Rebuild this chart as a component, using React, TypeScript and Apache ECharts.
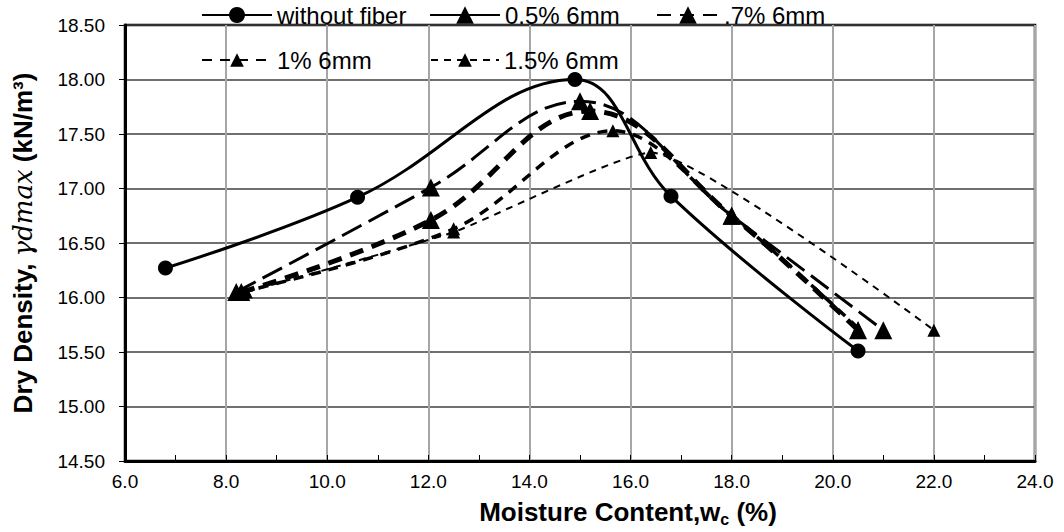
import React, { useEffect, useRef } from "react";
import * as echarts from "echarts";

const seriesNames = ["without fiber", "0.5% 6mm", ".7% 6mm", "1% 6mm", "1.5% 6mm"];

const wfX = [6.8, 10.6, 14.9, 16.8, 20.5];
const wfY = [16.27, 16.92, 18.0, 16.93, 15.51];

const p05X = [8.2, 12.05, 15.0, 18.0, 21.0];
const p05Y = [16.05, 17.01, 17.8, 16.75, 15.7];

const p07X = [8.3, 12.05, 15.2, 18.0, 20.5];
const p07Y = [16.05, 16.71, 17.71, 16.75, 15.7];

const p1X = [8.3, 12.5, 15.65, 18.0, 20.5];
const p1Y = [16.05, 16.63, 17.53, 16.75, 15.72];

const p15X = [8.4, 12.5, 16.4, 22.0];
const p15Y = [16.05, 16.6, 17.33, 15.7];

const xTicks = { min: 6, max: 24, interval: 2 };
const yTicks = { min: 14.5, max: 18.5, interval: 0.5 };

const zip = (xs: number[], ys: number[]) => xs.map((x, i) => [x, ys[i]]);

const FONT = "Liberation Sans, Arial, sans-serif";

export default function App() {
  const ref = useRef<HTMLDivElement>(null);
  useEffect(() => {
    if (!ref.current) return;
    const chart = echarts.init(ref.current, undefined, { renderer: "svg" });
    const mk = (
      name: string,
      data: number[][],
      symbol: string,
      size: number,
      width: number,
      type: any,
      smooth: number
    ) => ({
      name,
      type: "line",
      data,
      smooth,
      symbol,
      symbolSize: size,
      showSymbol: true,
      itemStyle: { color: "#000" },
      lineStyle: { color: "#000", width, type },
      z: 3,
    });
    const legendBase = {
      itemWidth: 70,
      itemHeight: 16,
      textStyle: { fontSize: 24, color: "#000", fontFamily: FONT, lineHeight: 24 },
      itemGap: 0,
      padding: 0,
    };
    chart.setOption({
      animation: false,
      backgroundColor: "#fff",
      textStyle: { fontFamily: FONT },
      grid: {
        left: 125,
        top: 25,
        width: 910,
        height: 436,
        show: true,
        borderColor: "#000",
        borderWidth: 2.5,
        containLabel: false,
      },
      legend: [
        { ...legendBase, itemHeight: 20, data: [seriesNames[0]], left: 201, top: 3 },
        {
          ...legendBase,
          itemHeight: 22,
          data: [{ name: seriesNames[1], lineStyle: { type: "solid" } }],
          left: 429,
          top: 3,
        },
        { ...legendBase, itemHeight: 22, itemWidth: 62, data: [seriesNames[2]], left: 656, top: 3 },
        { ...legendBase, itemHeight: 17, data: [seriesNames[3]], left: 201, top: 48 },
        { ...legendBase, itemHeight: 17, itemWidth: 68, data: [seriesNames[4]], left: 430, top: 48 },
      ],
      xAxis: {
        type: "value",
        ...xTicks,
        name: "{a|Moisture Content,w}{s|c}{a| (%)}",
        nameLocation: "middle",
        nameGap: 36,
        nameTextStyle: {
          padding: [0, 0, 0, 96],
          rich: {
            a: { fontSize: 26, fontWeight: "bold", color: "#000", fontFamily: FONT, lineHeight: 30, verticalAlign: "middle" },
            s: { fontSize: 16, fontWeight: "bold", color: "#000", fontFamily: FONT, lineHeight: 16, verticalAlign: "bottom" },
          },
        },
        axisLine: { show: true, lineStyle: { color: "#000", width: 3 } },
        axisTick: { show: true, inside: true, length: 6, lineStyle: { color: "#000", width: 1 } },
        minorTick: { show: true, splitNumber: 2, length: 6, lineStyle: { color: "#000", width: 1 } },
        splitLine: { show: true, lineStyle: { color: "#a6a6a6", width: 2 } },
        axisLabel: {
          fontSize: 19,
          color: "#000",
          fontFamily: FONT,
          margin: 11,
          formatter: (v: number) => v.toFixed(1),
        },
      },
      yAxis: {
        type: "value",
        ...yTicks,
        name: "{a|Dry Density, }{i|γdmax}{a| (kN/m³)}",
        nameLocation: "middle",
        nameGap: 89,
        nameRotate: 90,
        nameTextStyle: {
          rich: {
            a: { fontSize: 26, fontWeight: "bold", color: "#000", fontFamily: FONT },
            i: { fontSize: 26, fontStyle: "italic", color: "#000", fontFamily: "DejaVu Serif, serif" },
          },
        },
        axisLine: { show: true, lineStyle: { color: "#000", width: 3 } },
        axisTick: { show: true, length: 6, lineStyle: { color: "#000", width: 1 } },
        splitLine: { show: true, lineStyle: { color: "#404040", width: 1.5 } },
        axisLabel: {
          fontSize: 19,
          color: "#000",
          fontFamily: FONT,
          margin: 20,
          formatter: (v: number) => v.toFixed(2),
        },
      },
      series: [
        mk(seriesNames[0], zip(wfX, wfY), "circle", 15, 3, "solid", 0.4),
        mk(seriesNames[1], zip(p05X, p05Y), "triangle", 18, 3, [22, 8], 0.4),
        mk(seriesNames[2], zip(p07X, p07Y), "triangle", 18, 5, [14, 9], 0.4),
        mk(seriesNames[3], zip(p1X, p1Y), "triangle", 13, 3.5, [10, 8], 0.35),
        mk(seriesNames[4], zip(p15X, p15Y), "triangle", 13, 2, [7, 6], 0.15),
      ],
    });
    return () => chart.dispose();
  }, []);
  return (
    <div
      ref={ref}
      style={{ position: "fixed", left: 0, top: 0, width: 1064, height: 532, background: "#fff" }}
    />
  );
}
